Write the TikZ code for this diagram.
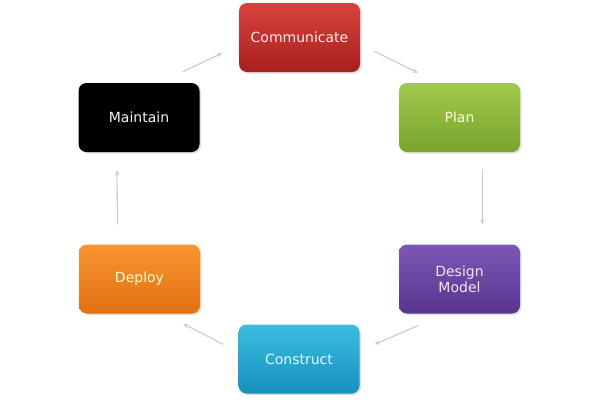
\documentclass[tikz,border=0pt]{standalone}
\usepackage{fontspec}
\setmainfont{DejaVu Sans}
\usetikzlibrary{calc,arrows.meta,shadows}
\definecolor{redT}{HTML}{D8423D}
\definecolor{redB}{HTML}{A9201F}
\definecolor{grnT}{HTML}{A0C94C}
\definecolor{grnB}{HTML}{78A42C}
\definecolor{purT}{HTML}{7E57B6}
\definecolor{purB}{HTML}{58358E}
\definecolor{orgT}{HTML}{F7952F}
\definecolor{orgB}{HTML}{E27010}
\definecolor{cyaT}{HTML}{3BBEE2}
\definecolor{cyaB}{HTML}{1690BC}
\definecolor{arrowgray}{HTML}{CACACA}
\tikzset{
  stage/.style={rounded corners=8pt, minimum width=121pt, minimum height=69pt,
    inner sep=2pt, align=center, font=\fontsize{14}{16}\selectfont,
    drop shadow={shadow xshift=1.5pt, shadow yshift=-1.5pt, opacity=0.25}},
  flow/.style={draw=arrowgray, line width=1.1pt, -{Stealth[length=5pt,width=4.5pt]}}
}
\begin{document}
\begin{tikzpicture}[x=1pt,y=-1pt]
\useasboundingbox[fill=white] (0,0) rectangle (600,400);
\node[stage, top color=redT, bottom color=redB, text=white!92!red] (c) at (299.5,37.5) {Communicate};
\node[stage, top color=grnT, bottom color=grnB, text=white!85!yellow] (p) at (459.5,117.5) {Plan};
\node[stage, top color=purT, bottom color=purB, text=white!90!violet] (d) at (459.5,279) {Design\\Model};
\node[stage, top color=cyaT, bottom color=cyaB, text=white!90!cyan] (k) at (299,359) {Construct};
\node[stage, top color=orgT, bottom color=orgB, text=white!85!yellow] (y) at (139.5,279) {Deploy};
\node[stage, fill=black, text=white!95!black] (m) at (139,117.5) {Maintain};
\draw[flow] ($(m.north east)+(-17,-11)$) -- ($(c.south west)+(-17,-19)$);
\draw[flow] ($(c.south east)+(14,-21)$) -- ($(p.north west)+(19,-10)$);
\draw[flow] ($(p.south)+(23,18)$) -- ($(d.north)+(23,-20)$);
\draw[flow] ($(d.south west)+(19,12)$) -- ($(k.north east)+(15,20)$);
\draw[flow] ($(k.north west)+(-15,20)$) -- ($(y.south east)+(-17,10)$);
\draw[flow] ($(y.north)+(-22,-20)$) -- ($(m.south)+(-22,18)$);
\end{tikzpicture}
\end{document}
